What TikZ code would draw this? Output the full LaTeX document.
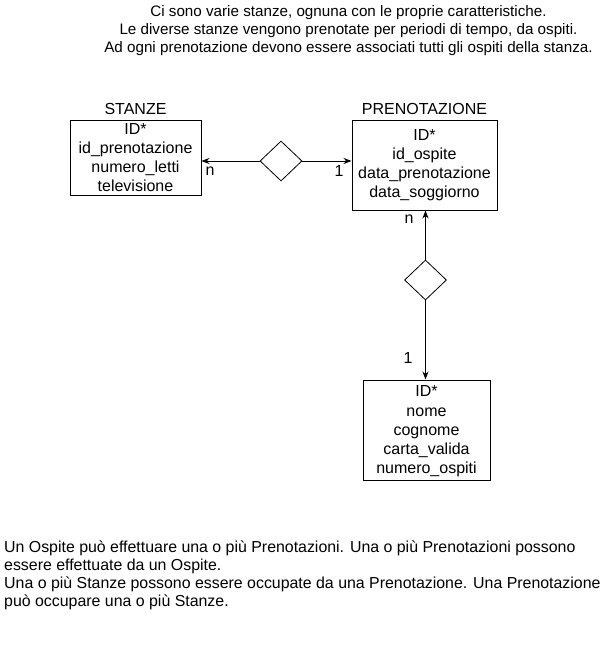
\documentclass[tikz,border=0pt]{standalone}
\usepackage{fontspec}
\setmainfont{Liberation Sans}
\usetikzlibrary{shapes.geometric,arrows.meta}
\tikzset{
  entity/.style={draw=black, line width=1pt, rectangle, inner sep=0pt, align=center,
    font=\fontsize{16}{19.2}\selectfont},
  etitle/.style={inner sep=0pt, font=\fontsize{16}{19.2}\selectfont},
  rel/.style={draw=black, line width=0.8pt, diamond, inner sep=0pt, minimum width=42pt, minimum height=40pt},
  conn/.style={line width=0.8pt, -{Stealth[length=8pt,width=6pt]}},
  card/.style={inner sep=0pt, font=\fontsize{16}{19.2}\selectfont},
  note/.style={inner sep=0pt, font=\fontsize{15.2}{18}\selectfont},
  bnote/.style={inner sep=0pt, font=\fontsize{15.9}{17.8}\selectfont}
}
\begin{document}
\begin{tikzpicture}[x=1pt,y=-1pt]
\useasboundingbox (0,0) rectangle (611,661);
\fill[white] (0,0) rectangle (611,661);

\node[note, align=center] (intro) at (348.5,31) {Ci sono varie stanze, ognuna con le proprie caratteristiche.\\Le diverse stanze vengono prenotate per periodi di tempo, da ospiti.\\Ad ogni prenotazione devono essere associati tutti gli ospiti della stanza.};

\node[etitle] (stanzeT) at (135.5,109) {STANZE};
\node[entity, minimum width=131pt, minimum height=75pt] (stanze) at (135.5,157.5)
  {ID*\\id\_prenotazione\\numero\_letti\\televisione};

\node[etitle] (prenT) at (424.5,109) {PRENOTAZIONE};
\node[entity, minimum width=145pt, minimum height=90pt] (pren) at (424.5,165)
  {ID*\\id\_ospite\\data\_prenotazione\\data\_soggiorno};

\node[entity, minimum width=127pt, minimum height=100pt] (ospite) at (426.5,430)
  {\rule{0pt}{14pt}ID*\\nome\\cognome\\carta\_valida\\numero\_ospiti};

\node[rel] (rel1) at (281,161) {};
\node[rel] (rel2) at (425.5,280) {};

\draw[conn] (rel1.west) -- (rel1.west -| stanze.east);
\draw[conn] (rel1.east) -- (rel1.east -| pren.west);
\draw[conn] (rel2.north) -- (rel2.north |- pren.south);
\draw[conn] (rel2.south) -- (rel2.south |- ospite.north);

\node[card] (c1) at (210,171) {n};
\node[card] (c2) at (339,171) {1};
\node[card] (c3) at (409,219) {n};
\node[card] (c4) at (408,358) {1};

\node[bnote, anchor=north west, align=left] (bottom) at (4,541) {Un Ospite può effettuare una o più Prenotazioni. Una o più Prenotazioni possono\\essere effettuate da un Ospite.\\Una o più Stanze possono essere occupate da una Prenotazione. Una Prenotazione\\può occupare una o più Stanze.};
\end{tikzpicture}
\end{document}
